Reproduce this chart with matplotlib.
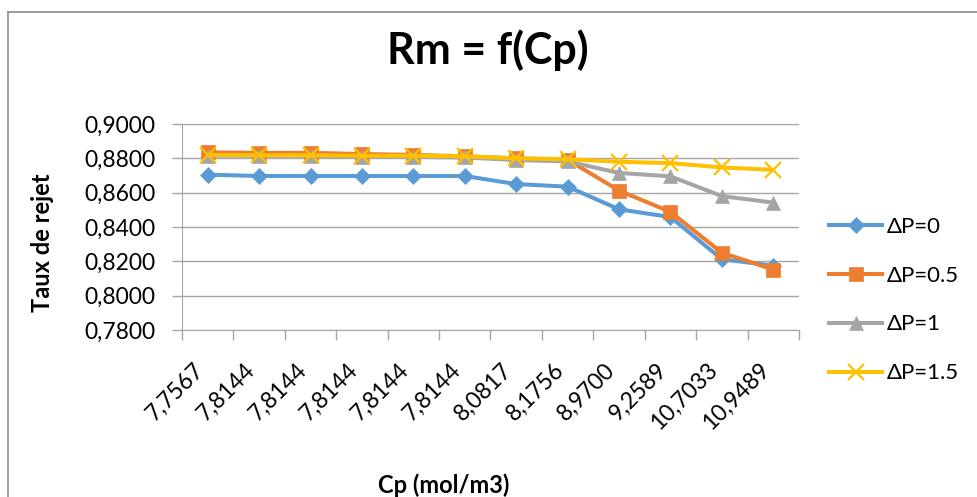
import matplotlib.pyplot as plt
from matplotlib.lines import Line2D
import numpy as np

plt.rcParams['font.family'] = ['Lato', 'DejaVu Sans']

# category labels (Cp values)
cp_labels = ['7,7567', '7,8144', '7,8144', '7,8144', '7,8144', '7,8144',
             '8,0817', '8,1756', '8,9700', '9,2589', '10,7033', '10,9489']

# rejection rate series for each pressure
dp0 = [0.8705, 0.8697, 0.8697, 0.8697, 0.8697, 0.8697, 0.8650, 0.8635, 0.8503, 0.8458, 0.8212, 0.8175]
dp05 = [0.8835, 0.8832, 0.8832, 0.8825, 0.8820, 0.8812, 0.8800, 0.8792, 0.8612, 0.8488, 0.8250, 0.8152]
dp1 = [0.8815, 0.8815, 0.8815, 0.8810, 0.8808, 0.8805, 0.8790, 0.8782, 0.8715, 0.8695, 0.8580, 0.8542]
dp15 = [0.8820, 0.8818, 0.8818, 0.8815, 0.8815, 0.8812, 0.8800, 0.8795, 0.8780, 0.8772, 0.8747, 0.8733]

series = [
    ('ΔP=0', dp0, '#5B9BD5', 'D', 8),
    ('ΔP=0.5', dp05, '#ED7D31', 's', 10),
    ('ΔP=1', dp1, '#A5A5A5', '^', 10),
    ('ΔP=1.5', dp15, '#FFC000', 'x', 11),
]

fig = plt.figure(figsize=(9.77, 4.97), dpi=100)
ax = fig.add_axes([182 / 977, 1 - 330 / 497, 617 / 977, 206 / 497])

x = np.arange(len(cp_labels)) + 0.5
for name, vals, col, mk, ms in series:
    ax.plot(x, vals, color=col, lw=2.9, marker=mk, markersize=ms,
            markeredgewidth=1.6 if mk == 'x' else 0.5, markeredgecolor=col, label=name)

ax.set_xlim(0, len(cp_labels))
ax.set_ylim(0.78, 0.90)
yt = np.arange(0.78, 0.9001, 0.02)
ax.set_yticks(yt)
ax.set_yticklabels([f'{v:.4f}'.replace('.', ',') for v in yt], fontsize=16.5)
ax.yaxis.grid(True, color='#a6a6a6', lw=1)
ax.set_axisbelow(True)

ax.set_xticks(x)
ax.set_xticklabels(cp_labels, rotation=45, ha='right', va='top', fontsize=16.5)
ax.tick_params(axis='x', length=0, pad=21)
ax.set_xticks(np.arange(len(cp_labels) + 1), minor=True)
ax.tick_params(axis='x', which='minor', length=7, color='#a6a6a6', width=1)
ax.tick_params(axis='y', length=7, color='#a6a6a6', width=1, pad=12)

for s in ['top', 'right']:
    ax.spines[s].set_visible(False)
for s in ['left', 'bottom']:
    ax.spines[s].set_color('#a6a6a6')

fig.text(0.499, 0.9, 'Rm = f(Cp)', ha='center', va='center', fontsize=31, fontweight='bold')
fig.text(43 / 977, 1 - 243 / 497, 'Taux de rejet', rotation=90, ha='center', va='center',
         fontsize=17, fontweight='bold')
fig.text(444 / 977, 1 - 485 / 497, 'Cp (mol/m3)', ha='center', va='center',
         fontsize=17, fontweight='bold')

fig.legend(loc='center left', bbox_to_anchor=(829 / 977, 1 - 300 / 497), frameon=False,
           fontsize=16, labelspacing=1.3, handlelength=2.4, handletextpad=0.2,
           borderpad=0, borderaxespad=0)

# outer chart border
fig.add_artist(Line2D([8 / 977, 8 / 977], [0, 1 - 12 / 497], transform=fig.transFigure,
                      color='#8c8c8c', lw=1.2))
fig.add_artist(Line2D([8 / 977, 1], [1 - 12 / 497, 1 - 12 / 497], transform=fig.transFigure,
                      color='#8c8c8c', lw=1.2))

fig.savefig('out.png', dpi=100)
